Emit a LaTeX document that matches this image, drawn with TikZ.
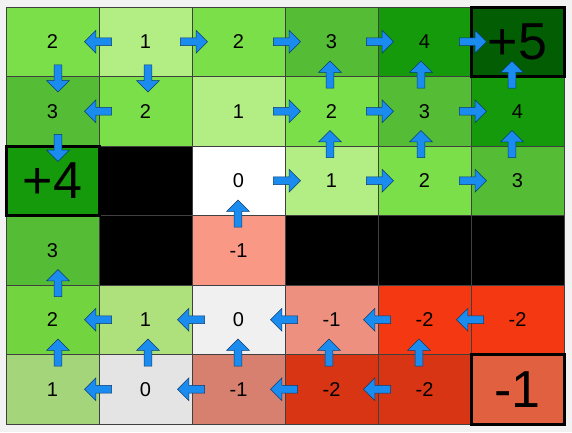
\documentclass[tikz,border=0pt]{standalone}
\usepackage{fontspec}
\setmainfont{Liberation Sans}
\usetikzlibrary{shapes.arrows}
\definecolor{bg}{HTML}{F2F2F2}
\definecolor{gA}{HTML}{B3EE84}
\definecolor{gAb}{HTML}{AEE07C}
\definecolor{gAc}{HTML}{A5D57A}
\definecolor{gB}{HTML}{7ADF48}
\definecolor{gBb}{HTML}{72D540}
\definecolor{gC}{HTML}{55BD35}
\definecolor{gD}{HTML}{149A0A}
\definecolor{gE}{HTML}{035E03}
\definecolor{wA}{HTML}{FFFFFF}
\definecolor{wB}{HTML}{F0F0F0}
\definecolor{wC}{HTML}{E4E4E4}
\definecolor{sA}{HTML}{F99885}
\definecolor{sB}{HTML}{EE9080}
\definecolor{sC}{HTML}{D88070}
\definecolor{rA}{HTML}{F43812}
\definecolor{rB}{HTML}{D83515}
\definecolor{rC}{HTML}{E06040}
\definecolor{arrblue}{HTML}{1A8CF0}
\definecolor{arredge}{HTML}{0A3A70}
\tikzset{
  cellbox/.style={rectangle, minimum width=93pt, minimum height=69.5pt, inner sep=0pt,
    draw=black!75, line width=0.8pt, text=black, font=\fontsize{20}{22}\selectfont},
  bigcell/.style={cellbox, draw=black, line width=3pt, font=\fontsize{52}{54}\selectfont},
  parrow/.style={single arrow, draw=arredge, fill=arrblue, line width=0.5pt,
    minimum height=27pt, inner sep=3.7pt, single arrow head extend=7.5pt,
    single arrow tip angle=90, single arrow head indent=0pt}
}
\begin{document}
\begin{tikzpicture}[x=1pt,y=-1pt]
\useasboundingbox (0,0) rectangle (572,432);
\fill[bg] (0,0) rectangle (572,432);
% ordinary cells
\foreach \c/\r/\col/\t in {
  0/0/gB/2, 1/0/gA/1, 2/0/gB/2, 3/0/gC/3, 4/0/gD/4,
  0/1/gC/3, 1/1/gB/2, 2/1/gA/1, 3/1/gB/2, 4/1/gC/3, 5/1/gD/4,
  1/2/black/{}, 2/2/wA/0, 3/2/gA/1, 4/2/gB/2, 5/2/gC/3,
  0/3/gC/3, 1/3/black/{}, 2/3/sA/-1, 3/3/black/{}, 4/3/black/{}, 5/3/black/{},
  0/4/gBb/2, 1/4/gAb/1, 2/4/wB/0, 3/4/sB/-1, 4/4/rA/-2, 5/4/rA/-2,
  0/5/gAc/1, 1/5/wC/0, 2/5/sC/-1, 3/5/rB/-2, 4/5/rB/-2}
  \node[cellbox, fill=\col] (c\c\r) at ({52.5+93*\c},{41.75+69.5*\r}) {\t};
% terminal cells
\node[bigcell, fill=gE] (c50) at ({52.5+93*5},{41.75}) {+5};
\node[bigcell, fill=gD] (c02) at ({52.5},{41.75+69.5*2}) {+4};
\node[bigcell, fill=rC] (c55) at ({52.5+93*5},{41.75+69.5*5}) {-1};
% left arrows: boundary k, row r
\foreach \k/\r [count=\i] in {1/0, 1/1, 1/4, 2/4, 3/4, 4/4, 5/4, 1/5, 2/5, 3/5, 4/5}
  \node[parrow, rotate=180] (al\i) at ({6+93*\k+1},{41.75+69.5*\r}) {};
% right arrows
\foreach \k/\r [count=\i] in {2/0, 3/0, 4/0, 5/0, 3/1, 4/1, 5/1, 3/2, 4/2, 5/2}
  \node[parrow] (ar\i) at ({6+93*\k},{41.75+69.5*\r}) {};
% down arrows: x, boundary k
\foreach \x/\k [count=\i] in {58/1, 148/1, 58/2}
  \node[parrow, rotate=-90] (ad\i) at (\x,{7+69.5*\k}) {};
% up arrows
\foreach \x/\k [count=\i] in {330/1, 421/1, 512/1, 330/2, 421/2, 512/2, 238/3, 58/4,
  58/5, 148/5, 238/5, 329/5, 419/5}
  \node[parrow, rotate=90] (au\i) at (\x,{7+69.5*\k}) {};
\end{tikzpicture}
\end{document}
